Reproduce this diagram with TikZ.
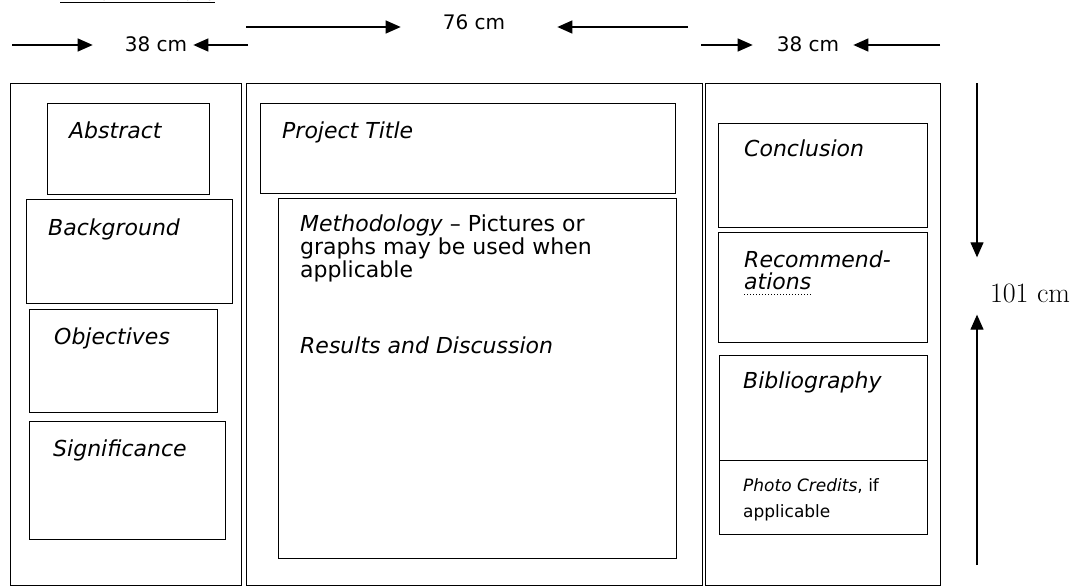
\documentclass[tikz,border=0pt]{standalone}
\usepackage{fontspec}
\usepackage{tikz}
\usetikzlibrary{arrows.meta,positioning}
\newfontfamily\posterfont{DejaVu Sans}

\begin{document}
\begin{tikzpicture}[
    x=1pt, y=-1pt,
    column/.style={draw, line width=1.3pt, anchor=north west, inner sep=0pt},
    part/.style={draw, line width=1.2pt, anchor=north west, inner sep=0pt},
    lbl/.style={anchor=base west, inner sep=0pt, align=left,
      font=\posterfont\itshape\fontsize{22}{24}\selectfont},
    dim/.style={inner sep=0pt, font=\posterfont\fontsize{20}{24}\selectfont},
    dimarrow/.style={-{Triangle[length=15pt,width=13pt]}, line width=1.2pt},
  ]
  \useasboundingbox (0,0) rectangle (1078,586);

  % heading, cut off by the top of the page
  \node[anchor=base west, inner sep=0pt, font=\bfseries\fontsize{26}{30}\selectfont]
    (heading) at (60,1) {\underline{The Exhibit}};

  % --- Three columns ---
  \foreach \n/\x/\w in {colL/10/231, colM/246/456, colR/705/235} {
    \node[column, minimum width=\w, minimum height=502] (\n) at (\x,83) {};
  }

  % --- Sections: name/left/top/width/height ---
  \foreach \n/\x/\y/\w/\h in {abstract/47/103/162/91, background/26/199/206/104,
      objectives/29/309/188/103, significance/29/421/196/118,
      title/260/103/415/90, method/278/198/398/360,
      conclusion/718/123/209/104, recommend/718/232/209/110,
      biblio/719/355/208/105, credits/719/460/208/74} {
    \node[part, minimum width=\w, minimum height=\h] (\n) at (\x,\y) {};
  }

  % --- Section labels ---
  \foreach \n/\dx/\dy/\t in {abstract/22/35/Abstract, background/22/36/Background,
      objectives/25/35/Objectives, significance/24/35/Significance,
      title/22/35/Project Title, conclusion/26/33/Conclusion,
      biblio/24/33/Bibliography} {
    \node[lbl] (\n T) at ([shift={(\dx,\dy)}]\n.north west) {\t};
  }
  \node[lbl] (recommendT) at ([shift={(26,35)}]recommend.north west) {Recommend-};
  \node[lbl] (recommendU) at ([yshift=-22pt]recommendT.base west) {ations};
  \draw[dotted, line width=1pt] ([yshift=-5pt]recommendU.base west)
    -- ([yshift=-5pt]recommendU.base east);

  \node[lbl, anchor=north west, font=\posterfont\fontsize{22}{23}\selectfont] (methodT)
    at ([shift={(22,17)}]method.north west)
    {\textit{Methodology} – Pictures or\\ graphs may be used when\\ applicable\\[53pt]
     \textit{Results and Discussion}};

  \node[lbl, anchor=north west, font=\posterfont\fontsize{17}{26}\selectfont] (creditsT)
    at ([shift={(24,18)}]credits.north west) {\textit{Photo Credits}, if\\ applicable};

  % --- Widths along the top ---
  \node[dim] (wL) at (156,44) {38 cm};
  \node[dim] (wM) at (474,22) {76 cm};
  \node[dim] (wR) at (808,44) {38 cm};
  \coordinate (wLa) at (12,45);   \coordinate (wLb) at (248,45);
  \coordinate (wMa) at (246,27);  \coordinate (wMb) at (688,27);
  \coordinate (wRa) at (701,45);  \coordinate (wRb) at (940,45);
  \draw[dimarrow, shorten >=32pt] (wLa) -- (wLa -| wL.west);
  \draw[dimarrow, shorten >=6pt] (wLb) -- (wLb -| wL.east);
  \draw[dimarrow, shorten >=42pt] (wMa) -- (wMa -| wM.west);
  \draw[dimarrow, shorten >=52pt] (wMb) -- (wMb -| wM.east);
  \draw[dimarrow, shorten >=24pt] (wRa) -- (wRa -| wR.west);
  \draw[dimarrow, shorten >=14pt] (wRb) -- (wRb -| wR.east);

  % --- Height on the right ---
  \node[inner sep=0pt, font=\fontsize{28}{30}\selectfont] (h101) at (1030,293) {101 cm};
  \coordinate (hTop) at (977,83);
  \coordinate (hBot) at (977,565);
  \draw[dimarrow, shorten >=26pt] (hTop) -- (hTop |- h101.north);
  \draw[dimarrow, shorten >=12pt] (hBot) -- (hBot |- h101.south);
\end{tikzpicture}
\end{document}
